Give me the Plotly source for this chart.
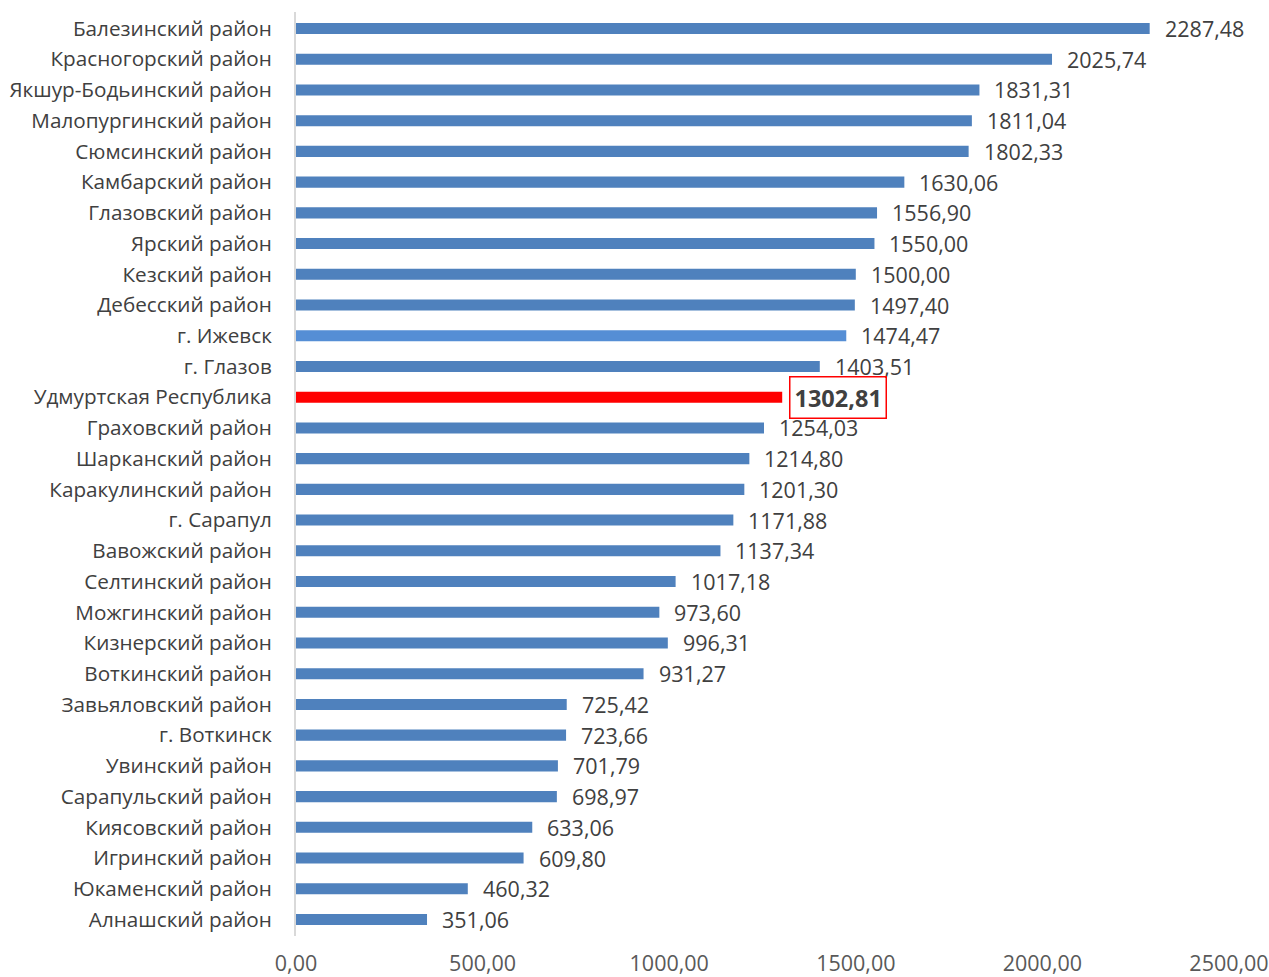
import plotly.graph_objects as go

categories = [
    "Балезинский район", "Красногорский район", "Якшур-Бодьинский район",
    "Малопургинский район", "Сюмсинский район", "Камбарский район",
    "Глазовский район", "Ярский район", "Кезский район", "Дебесский район",
    "г. Ижевск", "г. Глазов", "Удмуртская Республика", "Граховский район",
    "Шарканский район", "Каракулинский район", "г. Сарапул", "Вавожский район",
    "Селтинский район", "Можгинский район", "Кизнерский район",
    "Воткинский район", "Завьяловский район", "г. Воткинск", "Увинский район",
    "Сарапульский район", "Киясовский район", "Игринский район",
    "Юкаменский район", "Алнашский район",
]
values = [
    2287.48, 2025.74, 1831.31, 1811.04, 1802.33, 1630.06, 1556.90, 1550.00,
    1500.00, 1497.40, 1474.47, 1403.51, 1302.81, 1254.03, 1214.80, 1201.30,
    1171.88, 1137.34, 1017.18, 973.60, 996.31, 931.27, 725.42, 723.66,
    701.79, 698.97, 633.06, 609.80, 460.32, 351.06,
]
tick_vals = [0, 500, 1000, 1500, 2000, 2500]
tick_text = ["0,00", "500,00", "1000,00", "1500,00", "2000,00", "2500,00"]

highlight = "Удмуртская Республика"
capital = "г. Ижевск"

colors = []
for c in categories:
    if c == highlight:
        colors.append("#ff0000")
    elif c == capital:
        colors.append("#558ed5")
    else:
        colors.append("#4f81bd")

def fmt(v):
    return f"{v:.2f}".replace(".", ",")

fig = go.Figure()
fig.add_trace(go.Bar(
    x=values, y=categories, orientation="h",
    marker=dict(color=colors, line=dict(width=0)),
    hoverinfo="skip",
))

FONT = "Open Sans"
for c, v in zip(categories, values):
    if c == highlight:
        fig.add_annotation(
            x=v, y=c, text="<b>" + fmt(v) + "</b>", showarrow=False,
            xanchor="left", xshift=7, yshift=0,
            font=dict(family=FONT, size=23.5, color="#404040"),
            bordercolor="#ff0000", borderwidth=1.5, borderpad=4,
        )
    else:
        fig.add_annotation(
            x=v, y=c, text=fmt(v), showarrow=False,
            xanchor="left", xshift=13, yshift=0,
            font=dict(family=FONT, size=21.5, color="#404040"),
        )

fig.update_layout(
    width=1269, height=977,
    margin=dict(l=296, r=40, t=12, b=41),
    paper_bgcolor="white", plot_bgcolor="white",
    bargap=0.64, showlegend=False,
    font=dict(family=FONT, size=20.7, color="#404040"),
)
fig.update_xaxes(
    range=[0, 2500], tickvals=tick_vals, ticktext=tick_text,
    showgrid=False, zeroline=False, showline=False, automargin=False,
    ticks="", ticklabelstandoff=12,
    tickfont=dict(family=FONT, size=21.5, color="#595959"),
)
fig.update_yaxes(
    autorange="reversed", showgrid=False, zeroline=False, automargin=False,
    showline=True, linecolor="#d9d9d9", linewidth=2,
    ticks="", ticklabelstandoff=18,
    tickfont=dict(family=FONT, size=20.7, color="#404040"),
)

fig.write_html("out.html")
